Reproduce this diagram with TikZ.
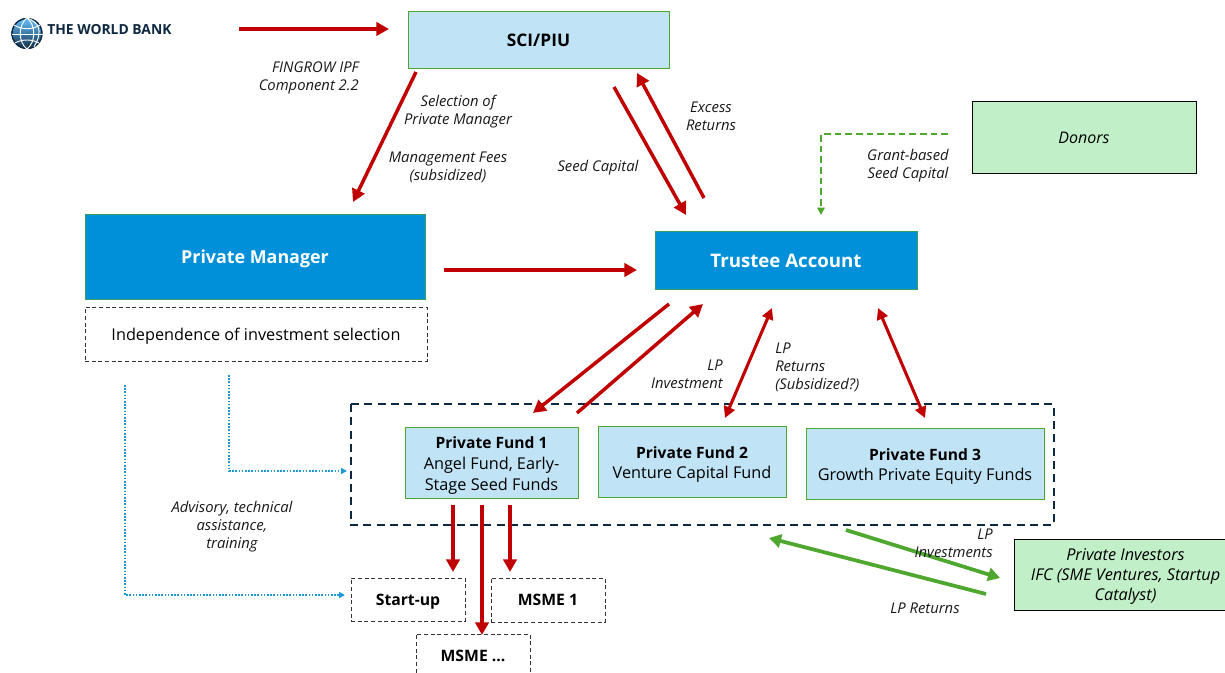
\documentclass[tikz,border=0pt]{standalone}
\usepackage{fontspec}
\setmainfont{Open Sans}
\usetikzlibrary{arrows.meta}
\definecolor{lblue}{HTML}{C0E4F5}
\definecolor{dblue}{HTML}{0090DA}
\definecolor{lgreen}{HTML}{C1F0C8}
\definecolor{bgreen}{HTML}{4EA72E}
\definecolor{ared}{HTML}{C00000}
\definecolor{navy}{HTML}{0E2841}
\definecolor{dotblue}{HTML}{1C9AD6}
\tikzset{
 x=0.75pt,y=-0.75pt,
 every node/.style={font=\fontsize{12.2}{15.5}\selectfont,text=black,inner sep=0pt,align=center},
 lightbox/.style={draw=bgreen,line width=0.75pt,fill=lblue,text depth=0pt},
 bluebox/.style={draw=bgreen!70!dblue,line width=0.75pt,fill=dblue,text=white,text depth=0pt},
 donorbox/.style={draw=black,line width=0.75pt,fill=lgreen,text depth=0pt},
 dashbox/.style={draw=black!80,line width=0.75pt,dash pattern=on 3pt off 2pt,text depth=0pt},
 lab/.style={font=\fontsize{11.1}{13.5}\selectfont\itshape,text=black!90},
 redarrow/.style={draw=ared,line width=2.6pt,-{Triangle[length=9.5pt,width=10pt]}},
 redboth/.style={draw=ared,line width=2.3pt,{Triangle[length=8.5pt,width=8.5pt]}-{Triangle[length=8.5pt,width=8.5pt]}},
 greenarrow/.style={draw=bgreen,line width=2.8pt,-{Triangle[length=9pt,width=10pt]}},
 dotarrow/.style={draw=dotblue,line width=1pt,dash pattern=on 1.2pt off 1.2pt,-{Triangle[length=4.5pt,width=4.5pt]}},
 greendash/.style={draw=bgreen,line width=1.5pt,dash pattern=on 5pt off 3pt,-{Triangle[length=5.5pt,width=5.5pt]}},
}
\begin{document}
\begin{tikzpicture}
\useasboundingbox (0,0) rectangle (1225,673);
\fill[white] (0,0) rectangle (1225,673);

% Logo
\begin{scope}
\clip (27,33.5) circle (15.5);
\shade[top color=cyan!60!blue!60,bottom color=navy] (11,18) rectangle (43,50);
\end{scope}
\node[circle,minimum size=22.5pt,draw=navy,line width=1pt] (globe) at (27,33.5) {};
\draw[white,line width=0.7pt] (globe.north) .. controls (18,25) and (18,42) .. (globe.south);
\draw[white,line width=0.7pt] (globe.north) .. controls (36,25) and (36,42) .. (globe.south);
\draw[white,line width=0.7pt] (globe.north) .. controls (38,22) and (44,30) .. (34,47);
\draw[white,line width=0.7pt] (14,25) .. controls (22,30) and (32,30) .. (40,25);
\draw[white,line width=0.7pt] (11.5,34) -- (42.5,34);
\draw[white,line width=0.7pt] (15,43) .. controls (22,39) and (32,39) .. (39,43);
\node[anchor=west,text=navy,font=\fontsize{10.4}{12}\selectfont\bfseries] (wb) at (47,29.5) {THE WORLD BANK};

% Outer dashed frame
\draw[navy,line width=1.3pt,dash pattern=on 6pt off 4pt] (351,404) rectangle (1054,525);

% Boxes
\node[lightbox,minimum width=195.75pt,minimum height=42.75pt,font=\fontsize{13}{15}\selectfont\bfseries] (piu) at (538.5,40.5) {SCI/PIU};
\node[bluebox,minimum width=255pt,minimum height=63.75pt,font=\fontsize{13.4}{16}\selectfont\bfseries] (pm) at (255,257) {Private Manager};
\node[dashbox,minimum width=256.5pt,minimum height=40.5pt] (ind) at (256,334.5) {Independence of investment selection};
\node[bluebox,minimum width=196.5pt,minimum height=43.5pt,font=\fontsize{14}{16}\selectfont\bfseries] (trustee) at (786,261) {Trustee Account};
\node[donorbox,minimum width=168pt,minimum height=54pt,font=\fontsize{12}{14}\selectfont\itshape] (donors) at (1084,137.5) {Donors};
\node[lightbox,minimum width=129.75pt,minimum height=53.25pt] (f1) at (491.5,463.5) {\fontsize{11.7}{15.7}\selectfont\textbf{Private Fund 1}\\Angel Fund, Early-\\Stage Seed Funds};
\node[lightbox,minimum width=141pt,minimum height=53.25pt] (f2) at (692,462.5) {\fontsize{11.7}{15.5}\selectfont\textbf{Private Fund 2}\\Venture Capital Fund};
\node[lightbox,minimum width=178.5pt,minimum height=53.25pt] (f3) at (925,464.5) {\fontsize{11.7}{15.7}\selectfont\textbf{Private Fund 3}\\Growth Private Equity Funds};
\node[dashbox,minimum width=85.5pt,minimum height=32.25pt,font=\fontsize{11.8}{14}\selectfont\bfseries] (su) at (408,599.5) {Start-up};
\node[dashbox,minimum width=85.5pt,minimum height=33pt,font=\fontsize{11.8}{14}\selectfont\bfseries] (m1) at (548,600) {MSME 1};
\node[dashbox,minimum width=85.5pt,minimum height=33pt,font=\fontsize{11.8}{14}\selectfont\bfseries] (mn) at (473,656) {MSME ...};
\node[donorbox,minimum width=167.25pt,minimum height=53.25pt,font=\fontsize{12.2}{15}\selectfont\itshape] (pi) at (1125.5,574.5) {Private Investors\\IFC (SME Ventures, Startup\\Catalyst)};

% Free connector ends
\coordinate (wbS) at (239,29); \coordinate (wbE) at (389,29);
\coordinate (a1) at (416,72); \coordinate (a2) at (353,202);
\coordinate (b1) at (614,87); \coordinate (b2) at (686,215);
\coordinate (c1) at (704,198); \coordinate (c2) at (637,73);
\coordinate (d1) at (444,270); \coordinate (d2) at (637,270);
\coordinate (e1) at (669,304); \coordinate (e2) at (533,413);
\coordinate (f1a) at (577,413); \coordinate (f1b) at (703,304);
\coordinate (g1) at (772,308); \coordinate (g2) at (725,418);
\coordinate (h1) at (878,308); \coordinate (h2) at (925,418);
\coordinate (i1) at (453,505); \coordinate (i2) at (453,572);
\coordinate (j1) at (482,505); \coordinate (j2) at (482,635);
\coordinate (k1) at (510,505); \coordinate (k2) at (510,572);
\coordinate (l1) at (846,530); \coordinate (l2) at (1000,578);
\coordinate (n1) at (986,594); \coordinate (n2) at (769,538);
\coordinate (o1) at (948,134); \coordinate (o2) at (821,134); \coordinate (o3) at (821,215);
\coordinate (p1) at (229,375); \coordinate (p2) at (229,471); \coordinate (p3) at (347,471);
\coordinate (q1) at (125,385); \coordinate (q2) at (125,595); \coordinate (q3) at (345,595);

% Connectors
\draw[redarrow] (wbS) -- (wbE);
\draw[redarrow] (a1) -- (a2);
\draw[redarrow] (b1) -- (b2);
\draw[redarrow] (c1) -- (c2);
\draw[redarrow] (d1) -- (d2);
\draw[redarrow] (e1) -- (e2);
\draw[redarrow] (f1a) -- (f1b);
\draw[redboth] (g1) -- (g2);
\draw[redboth] (h1) -- (h2);
\draw[redarrow] (i1) -- (i2);
\draw[redarrow] (j1) -- (j2);
\draw[redarrow] (k1) -- (k2);
\draw[greenarrow] (l1) -- (l2);
\draw[greenarrow] (n1) -- (n2);
\draw[greendash] (o1) -- (o2) -- (o3);
\draw[dotarrow] (p1) -- (p2) -- (p3);
\draw[dotarrow] (q1) -- (q2) -- (q3);

% Labels
\node[lab,align=right,anchor=east] (t1) at (359,78) {FINGROW IPF\\Component 2.2};
\node[lab] (t2) at (458,112) {Selection of\\Private Manager};
\node[lab] (t3) at (448,167) {Management Fees\\(subsidized)};
\node[lab] (t4) at (598,168) {Seed Capital};
\node[lab] (t5) at (711,116) {Excess\\Returns};
\node[lab] (t6) at (908,166) {Grant-based\\Seed Capital};
\node[lab,align=right,anchor=east] (t7) at (723,374) {LP\\Investment};
\node[lab,align=left,anchor=west] (t8) at (775,367) {LP\\Returns\\(Subsidized?)};
\node[lab] (t9) at (232,527) {Advisory, technical\\assistance,\\training};
\node[lab,align=right,anchor=east] (t10) at (993,543) {LP\\Investments};
\node[lab] (t11) at (925,608) {LP Returns};
\end{tikzpicture}
\end{document}
